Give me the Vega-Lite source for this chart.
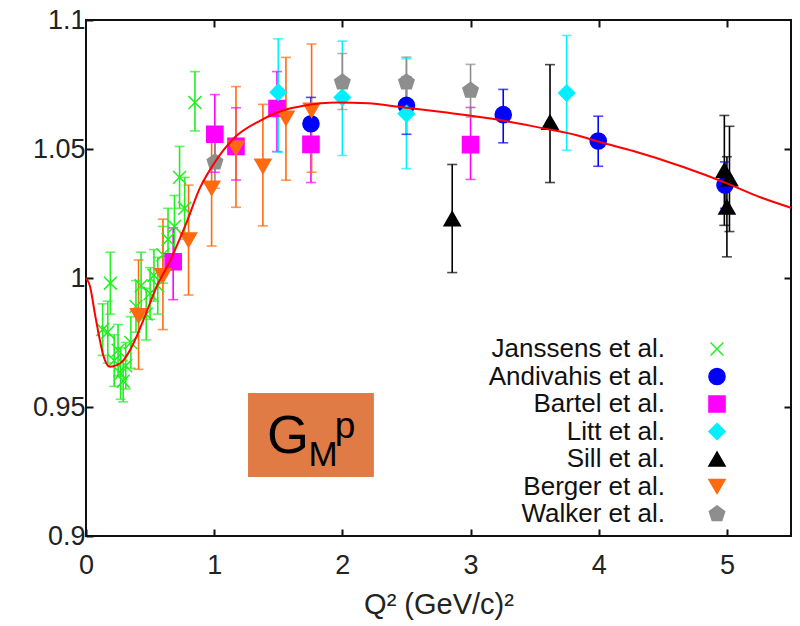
{
  "$schema": "https://vega.github.io/schema/vega-lite/v6.json",
  "width": 705,
  "height": 516,
  "autosize": {"type": "none"},
  "padding": {"left": 86, "top": 20, "right": 9, "bottom": 90},
  "background": "white",
  "config": {
    "view": {"stroke": "#111", "strokeWidth": 2},
    "font": "Liberation Sans",
    "axis": {
      "domain": false, "grid": false, "tickColor": "#111", "tickWidth": 2, "tickSize": -7,
      "labelFont": "Liberation Sans", "labelFontSize": 27, "labelColor": "#222",
      "titleFont": "Liberation Sans", "titleFontWeight": "normal", "titleColor": "#222"
    },
    "legend": {"orient": "none", "legendX": 618, "legendY": 316, "title": null, "padding": 0, "labelAlign": "right", "labelOffset": -65,
               "labelFont": "Liberation Sans", "labelFontSize": 26, "labelColor": "#111", "labelLimit": 400, "symbolSize": 260, "symbolStrokeWidth": 1.5, "rowPadding": 1.5, "symbolOpacity": 1}
  },
  "datasets": {
    "pts": [
      {"s": "Janssens et al.", "x": 0.13, "y": 0.980, "lo": 0.970, "hi": 0.990},
      {"s": "Janssens et al.", "x": 0.17, "y": 0.979, "lo": 0.967, "hi": 0.991},
      {"s": "Janssens et al.", "x": 0.19, "y": 0.998, "lo": 0.986, "hi": 1.010},
      {"s": "Janssens et al.", "x": 0.22, "y": 0.968, "lo": 0.958, "hi": 0.978},
      {"s": "Janssens et al.", "x": 0.25, "y": 0.972, "lo": 0.962, "hi": 0.982},
      {"s": "Janssens et al.", "x": 0.27, "y": 0.963, "lo": 0.953, "hi": 0.973},
      {"s": "Janssens et al.", "x": 0.29, "y": 0.960, "lo": 0.952, "hi": 0.968},
      {"s": "Janssens et al.", "x": 0.31, "y": 0.966, "lo": 0.957, "hi": 0.975},
      {"s": "Janssens et al.", "x": 0.35, "y": 0.975, "lo": 0.965, "hi": 0.985},
      {"s": "Janssens et al.", "x": 0.39, "y": 0.989, "lo": 0.979, "hi": 0.999},
      {"s": "Janssens et al.", "x": 0.43, "y": 0.997, "lo": 0.985, "hi": 1.010},
      {"s": "Janssens et al.", "x": 0.47, "y": 0.986, "lo": 0.976, "hi": 0.996},
      {"s": "Janssens et al.", "x": 0.50, "y": 0.994, "lo": 0.984, "hi": 1.004},
      {"s": "Janssens et al.", "x": 0.53, "y": 1.001, "lo": 0.991, "hi": 1.011},
      {"s": "Janssens et al.", "x": 0.56, "y": 0.997, "lo": 0.986, "hi": 1.008},
      {"s": "Janssens et al.", "x": 0.60, "y": 1.009, "lo": 0.998, "hi": 1.020},
      {"s": "Janssens et al.", "x": 0.64, "y": 1.015, "lo": 1.003, "hi": 1.027},
      {"s": "Janssens et al.", "x": 0.69, "y": 1.020, "lo": 1.008, "hi": 1.032},
      {"s": "Janssens et al.", "x": 0.73, "y": 1.039, "lo": 1.027, "hi": 1.051},
      {"s": "Janssens et al.", "x": 0.77, "y": 1.027, "lo": 1.015, "hi": 1.039},
      {"s": "Janssens et al.", "x": 0.85, "y": 1.068, "lo": 1.057, "hi": 1.080},
      {"s": "Andivahis et al.", "x": 1.755, "y": 1.0598, "lo": 1.050, "hi": 1.070},
      {"s": "Andivahis et al.", "x": 2.50, "y": 1.0669, "lo": 1.0557, "hi": 1.078},
      {"s": "Andivahis et al.", "x": 3.255, "y": 1.0633, "lo": 1.0524, "hi": 1.0731},
      {"s": "Andivahis et al.", "x": 3.996, "y": 1.0531, "lo": 1.0433, "hi": 1.0627},
      {"s": "Andivahis et al.", "x": 4.985, "y": 1.036, "lo": 1.027, "hi": 1.045},
      {"s": "Bartel et al.", "x": 0.68, "y": 1.0063, "lo": 0.9916, "hi": 1.0194},
      {"s": "Bartel et al.", "x": 1.005, "y": 1.0557, "lo": 1.041, "hi": 1.0711},
      {"s": "Bartel et al.", "x": 1.17, "y": 1.051, "lo": 1.038, "hi": 1.066},
      {"s": "Bartel et al.", "x": 1.49, "y": 1.0657, "lo": 1.049, "hi": 1.080},
      {"s": "Bartel et al.", "x": 1.755, "y": 1.0518, "lo": 1.037, "hi": 1.066},
      {"s": "Bartel et al.", "x": 3.0, "y": 1.0517, "lo": 1.0382, "hi": 1.0661},
      {"s": "Litt et al.", "x": 1.50, "y": 1.072, "lo": 1.0488, "hi": 1.0927},
      {"s": "Litt et al.", "x": 2.0, "y": 1.070, "lo": 1.0475, "hi": 1.0918},
      {"s": "Litt et al.", "x": 2.50, "y": 1.0637, "lo": 1.0424, "hi": 1.085},
      {"s": "Litt et al.", "x": 3.75, "y": 1.0717, "lo": 1.0495, "hi": 1.094},
      {"s": "Sill et al.", "x": 2.857, "y": 1.023, "lo": 1.0021, "hi": 1.044},
      {"s": "Sill et al.", "x": 3.62, "y": 1.0604, "lo": 1.037, "hi": 1.0827},
      {"s": "Sill et al.", "x": 4.98, "y": 1.0417, "lo": 1.0204, "hi": 1.063},
      {"s": "Sill et al.", "x": 5.02, "y": 1.0385, "lo": 1.018, "hi": 1.0588},
      {"s": "Sill et al.", "x": 5.0, "y": 1.0275, "lo": 1.0082, "hi": 1.047},
      {"s": "Berger et al.", "x": 0.41, "y": 0.9854, "lo": 0.9646, "hi": 1.007},
      {"s": "Berger et al.", "x": 0.60, "y": 1.0009, "lo": 0.980, "hi": 1.0228},
      {"s": "Berger et al.", "x": 0.80, "y": 1.0147, "lo": 0.9934, "hi": 1.036},
      {"s": "Berger et al.", "x": 0.98, "y": 1.0348, "lo": 1.0124, "hi": 1.0564},
      {"s": "Berger et al.", "x": 1.17, "y": 1.0503, "lo": 1.0274, "hi": 1.0742},
      {"s": "Berger et al.", "x": 1.38, "y": 1.0433, "lo": 1.0202, "hi": 1.0673},
      {"s": "Berger et al.", "x": 1.56, "y": 1.0619, "lo": 1.0379, "hi": 1.0855},
      {"s": "Berger et al.", "x": 1.76, "y": 1.065, "lo": 1.041, "hi": 1.0907},
      {"s": "Walker et al.", "x": 1.006, "y": 1.0449, "lo": 1.0348, "hi": 1.0553},
      {"s": "Walker et al.", "x": 2.0, "y": 1.0759, "lo": 1.0653, "hi": 1.087},
      {"s": "Walker et al.", "x": 2.50, "y": 1.0759, "lo": 1.065, "hi": 1.0856},
      {"s": "Walker et al.", "x": 3.0, "y": 1.0727, "lo": 1.0624, "hi": 1.0828}
    ],
    "fit": [
      {"x": 0, "y": 1.0}, {"x": 0.03, "y": 0.997}, {"x": 0.07, "y": 0.986}, {"x": 0.1, "y": 0.978},
      {"x": 0.135, "y": 0.970}, {"x": 0.187, "y": 0.9656}, {"x": 0.24, "y": 0.9662}, {"x": 0.29, "y": 0.968},
      {"x": 0.37, "y": 0.9746}, {"x": 0.447, "y": 0.9836}, {"x": 0.55, "y": 0.9965}, {"x": 0.655, "y": 1.0066},
      {"x": 0.78, "y": 1.021}, {"x": 0.89, "y": 1.035}, {"x": 1.0, "y": 1.0445}, {"x": 1.15, "y": 1.054},
      {"x": 1.36, "y": 1.061}, {"x": 1.54, "y": 1.065}, {"x": 1.7, "y": 1.0668}, {"x": 1.96, "y": 1.068},
      {"x": 2.2, "y": 1.0677}, {"x": 2.45, "y": 1.0663}, {"x": 2.78, "y": 1.0643}, {"x": 3.17, "y": 1.0617},
      {"x": 3.57, "y": 1.058}, {"x": 3.83, "y": 1.0553}, {"x": 4.0, "y": 1.0528}, {"x": 4.27, "y": 1.0492},
      {"x": 4.66, "y": 1.043}, {"x": 5.0, "y": 1.0367}, {"x": 5.26, "y": 1.0313}, {"x": 5.5, "y": 1.0272}
    ]
  },
  "layer": [
    {
      "data": {"values": [{"x": 1.264, "x2": 2.246, "y": 0.9229, "y2": 0.9554}]},
      "mark": {"type": "rect", "color": "#e07b45"},
      "encoding": {
        "x": {"field": "x", "type": "quantitative", "scale": {"domain": [0, 5.5], "nice": false}, "axis": null},
        "x2": {"field": "x2"},
        "y": {"field": "y", "type": "quantitative", "scale": {"domain": [0.9, 1.1], "nice": false, "zero": false}, "axis": null},
        "y2": {"field": "y2"}
      }
    },
    {
      "data": {"values": [{"t": "G", "x": 1.576, "y": 0.9321}]},
      "mark": {"type": "text", "font": "Liberation Sans", "fontSize": 54, "align": "center", "baseline": "alphabetic", "color": "#000"},
      "encoding": {
        "x": {"field": "x", "type": "quantitative", "scale": {"domain": [0, 5.5], "nice": false}, "axis": null},
        "y": {"field": "y", "type": "quantitative", "scale": {"domain": [0.9, 1.1], "nice": false, "zero": false}, "axis": null},
        "text": {"field": "t"}
      }
    },
    {
      "data": {"values": [{"t": "M", "x": 1.849, "y": 0.9271}]},
      "mark": {"type": "text", "font": "Liberation Sans", "fontSize": 35, "align": "center", "baseline": "alphabetic", "color": "#000"},
      "encoding": {
        "x": {"field": "x", "type": "quantitative", "scale": {"domain": [0, 5.5], "nice": false}, "axis": null},
        "y": {"field": "y", "type": "quantitative", "scale": {"domain": [0.9, 1.1], "nice": false, "zero": false}, "axis": null},
        "text": {"field": "t"}
      }
    },
    {
      "data": {"values": [{"t": "p", "x": 2.02, "y": 0.938}]},
      "mark": {"type": "text", "font": "Liberation Sans", "fontSize": 37, "align": "center", "baseline": "alphabetic", "color": "#000"},
      "encoding": {
        "x": {"field": "x", "type": "quantitative", "scale": {"domain": [0, 5.5], "nice": false}, "axis": null},
        "y": {"field": "y", "type": "quantitative", "scale": {"domain": [0.9, 1.1], "nice": false, "zero": false}, "axis": null},
        "text": {"field": "t"}
      }
    },
    {
      "data": {"name": "pts"},
      "mark": {"type": "rule", "strokeWidth": 1.6},
      "encoding": {
        "x": {"field": "x", "type": "quantitative", "scale": {"domain": [0, 5.5], "nice": false}, "axis": null},
        "y": {"field": "lo", "type": "quantitative", "scale": {"domain": [0.9, 1.1], "nice": false, "zero": false}, "axis": null},
        "y2": {"field": "hi"},
        "color": {"field": "s", "type": "nominal"}
      }
    },
    {
      "data": {"name": "pts"},
      "mark": {"type": "tick", "orient": "horizontal", "size": 10, "thickness": 1.6},
      "encoding": {
        "x": {"field": "x", "type": "quantitative", "scale": {"domain": [0, 5.5], "nice": false}, "axis": null},
        "y": {"field": "lo", "type": "quantitative", "scale": {"domain": [0.9, 1.1], "nice": false, "zero": false}, "axis": null},
        "color": {"field": "s", "type": "nominal"}
      }
    },
    {
      "data": {"name": "pts"},
      "mark": {"type": "tick", "orient": "horizontal", "size": 10, "thickness": 1.6},
      "encoding": {
        "x": {"field": "x", "type": "quantitative", "scale": {"domain": [0, 5.5], "nice": false}, "axis": null},
        "y": {"field": "hi", "type": "quantitative", "scale": {"domain": [0.9, 1.1], "nice": false, "zero": false}, "axis": null},
        "color": {"field": "s", "type": "nominal"}
      }
    },
    {
      "data": {"name": "pts"},
      "mark": {"type": "point", "filled": true, "opacity": 1, "size": 260, "strokeWidth": 1.5},
      "encoding": {
        "x": {"field": "x", "type": "quantitative", "scale": {"domain": [0, 5.5], "nice": false},
              "axis": {"values": [0, 1, 2, 3, 4, 5], "labelFlush": false, "labelPadding": 23, "title": "Q²  (GeV/c)²", "titleFontSize": 29, "titleY": 77, "titleBaseline": "alphabetic"}},
        "y": {"field": "y", "type": "quantitative", "scale": {"domain": [0.9, 1.1], "nice": false, "zero": false},
              "axis": {"values": [0.9, 0.95, 1, 1.05, 1.1], "format": "~g", "labelFlush": false, "labelPadding": 8, "title": null}},
        "color": {"field": "s", "type": "nominal",
          "scale": {"domain": ["Janssens et al.", "Andivahis et al.", "Bartel et al.", "Litt et al.", "Sill et al.", "Berger et al.", "Walker et al."],
                    "range": ["#22ee22", "#0000ff", "#ff00ff", "#00f0ff", "#000000", "#ff6a10", "#8e8e8e"]}},
        "stroke": {"field": "s", "type": "nominal",
          "scale": {"domain": ["Janssens et al.", "Andivahis et al.", "Bartel et al.", "Litt et al.", "Sill et al.", "Berger et al.", "Walker et al."],
                    "range": ["#22ee22", "#0000ff", "#ff00ff", "#00f0ff", "#000000", "#ff6a10", "#8e8e8e"]}},
        "shape": {"field": "s", "type": "nominal",
          "scale": {"domain": ["Janssens et al.", "Andivahis et al.", "Bartel et al.", "Litt et al.", "Sill et al.", "Berger et al.", "Walker et al."],
                    "range": ["M-0.8,-0.8L0.8,0.8M-0.8,0.8L0.8,-0.8", "circle", "square", "diamond", "triangle-up", "triangle-down", "M0,-1L0.95,-0.31L0.59,0.81L-0.59,0.81L-0.95,-0.31Z"]}}
      }
    },
    {
      "data": {"name": "fit"},
      "mark": {"type": "line", "color": "#ff0000", "strokeWidth": 2, "interpolate": "monotone"},
      "encoding": {
        "x": {"field": "x", "type": "quantitative", "scale": {"domain": [0, 5.5], "nice": false},
              "axis": {"orient": "top", "values": [1, 2, 3, 4, 5], "labels": false, "title": null}},
        "y": {"field": "y", "type": "quantitative", "scale": {"domain": [0.9, 1.1], "nice": false, "zero": false},
              "axis": {"orient": "right", "values": [0.95, 1, 1.05], "labels": false, "title": null}}
      }
    }
  ],
  "resolve": {"axis": {"x": "independent", "y": "independent"}}
}
